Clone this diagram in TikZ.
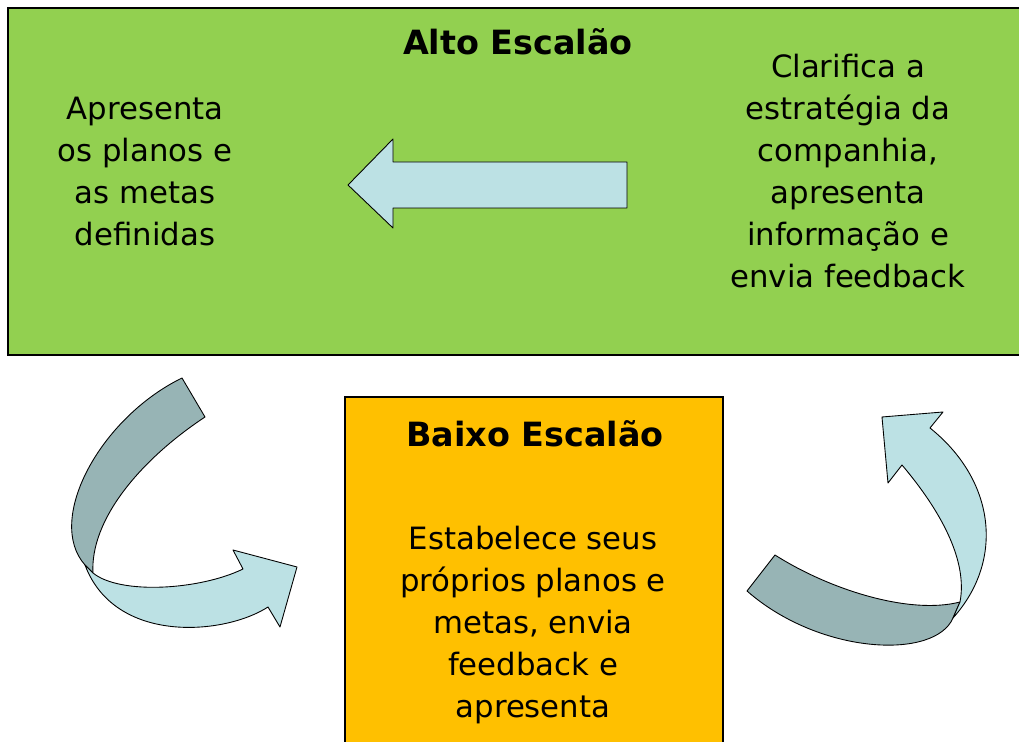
\documentclass[tikz,border=0pt]{standalone}
\usepackage{fontspec}
\setmainfont{DejaVu Sans}
\usetikzlibrary{positioning}
\definecolor{altogreen}{HTML}{92D050}
\definecolor{baixoorange}{HTML}{FFC000}
\definecolor{arrowlight}{HTML}{BCE1E4}
\definecolor{arrowdark}{HTML}{97B4B5}

\begin{document}
\begin{tikzpicture}[x=0.02cm,y=-0.02cm,
 levelbox/.style={draw=black,line width=0.8pt,inner sep=0pt},
 title/.style={font=\bfseries\fontsize{19}{24}\selectfont},
 desc/.style={align=center,font=\fontsize{17.5}{24}\selectfont},
 flow/.style={draw=black,line width=0.5pt,line join=round}]
 \useasboundingbox (0,0) rectangle (1019,742);

 \node[levelbox,fill=altogreen,minimum width=20.44cm,minimum height=6.94cm] (alto) at (519,181.5) {};
 \node[levelbox,fill=baixoorange,minimum width=7.56cm,minimum height=7.26cm] (baixo) at (534,578.5) {};

 \node[title,anchor=base] (altotitle) at (518,55) {Alto Escalão};
 \node[title,anchor=base] (baixotitle) at (535,447) {Baixo Escalão};

 \node[desc,anchor=base] (apresenta) at (145,246) {Apresenta\\os planos e\\as metas\\definidas};
 \node[desc,anchor=base] (clarifica) at (848,288) {Clarifica a\\estratégia da\\companhia,\\apresenta\\informação e\\envia feedback};
 \node[desc,anchor=base] (estabelece) at (533,718) {Estabelece seus\\próprios planos e\\metas, envia\\feedback e\\apresenta};

 \draw[flow,fill=arrowlight] (627,162) -- (393,162) -- (393,139) -- (348,185)
 -- (393,228) -- (393,208) -- (627,208) -- cycle;

 \draw[flow,fill=arrowdark] (182,378) .. controls (100,418) and (45,520) .. (85,565)
 -- (93,573) .. controls (90,520) and (140,460) .. (205,417) -- cycle;
 \draw[flow,fill=arrowlight] (93,573) .. controls (120,595) and (200,590) .. (243,569)
 -- (233,550) -- (297,567) -- (280,627) -- (268,607)
 .. controls (225,635) and (115,645) .. (85,565) -- cycle;

 \draw[flow,fill=arrowdark] (775,555) .. controls (830,590) and (910,615) .. (960,602)
 -- (953,618) .. controls (935,660) and (820,655) .. (747,591) -- cycle;
 \draw[flow,fill=arrowlight] (953,618) .. controls (1005,560) and (995,480) .. (930,428)
 -- (943,412) -- (882,417) -- (888,483) -- (902,465)
 .. controls (940,510) and (968,560) .. (960,602) -- cycle;
\end{tikzpicture}
\end{document}
